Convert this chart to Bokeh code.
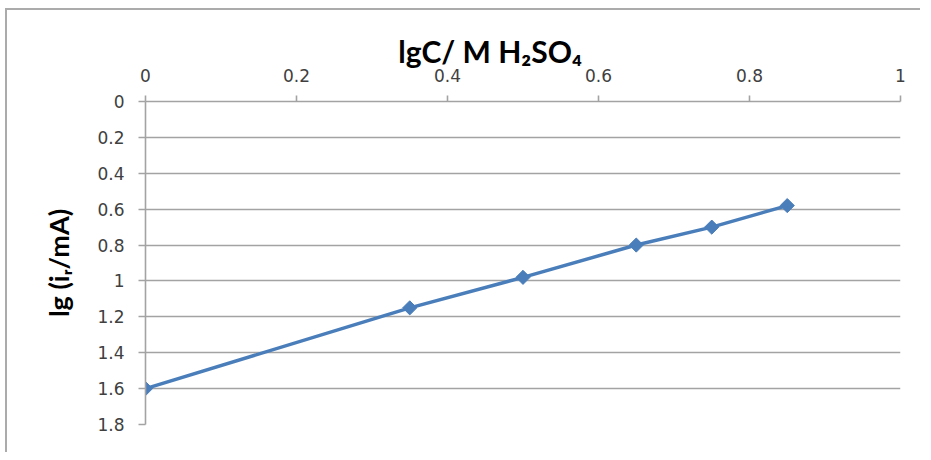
from bokeh.plotting import figure
from bokeh.models import Range1d, FixedTicker, NumeralTickFormatter
from bokeh.embed import file_html
from bokeh.resources import INLINE
from math import pi

# data
lg_c = [0.0, 0.35, 0.5, 0.65, 0.75, 0.85]
lg_i = [1.6, 1.15, 0.98, 0.80, 0.70, 0.58]
x_ticks = [0, 0.2, 0.4, 0.6, 0.8, 1.0]
y_ticks = [0, 0.2, 0.4, 0.6, 0.8, 1.0, 1.2, 1.4, 1.6, 1.8]
x_title = "lgC/ M H\u2082SO\u2084"
y_title = "lg (i\u1d63/mA)"

BLUE = "#4A7EBB"
GRID = "#a3a3a3"
NBSP = "\u00a0"

p = figure(width=915, height=444, output_backend="svg", toolbar_location=None,
           x_range=Range1d(0, 1), y_range=Range1d(1.8, 0),
           x_axis_location="above",
           min_border_left=138, min_border_right=22, min_border_top=91, min_border_bottom=30)
p.margin = (8, 0, 0, 5)
p.styles = {"border-top": "2px solid #ababab", "border-left": "2px solid #ababab"}
p.outline_line_color = None
p.background_fill_color = "white"
p.border_fill_color = "white"

# axes
xa = p.xaxis[0]
xa.ticker = FixedTicker(ticks=x_ticks)
xa.formatter = NumeralTickFormatter(format="0.[0]")
xa.axis_line_color = GRID
xa.axis_line_width = 1.6
xa.major_tick_line_color = GRID
xa.major_tick_line_width = 1.6
xa.major_tick_out = 6
xa.major_tick_in = 0
xa.minor_tick_line_color = None
xa.major_label_text_font = "DejaVu Sans"
xa.major_label_text_font_size = "17px"
xa.major_label_text_color = "#404040"
xa.major_label_standoff = 14
xa.axis_label = x_title + NBSP * 9
xa.axis_label_text_font = "Lato"
xa.axis_label_text_font_style = "bold"
xa.axis_label_text_font_size = "30px"
xa.axis_label_text_color = "#000000"
xa.axis_label_standoff = -3

ya = p.yaxis[0]
ya.ticker = FixedTicker(ticks=y_ticks)
ya.formatter = NumeralTickFormatter(format="0.[0]")
ya.axis_line_color = GRID
ya.axis_line_width = 1.6
ya.major_tick_line_color = GRID
ya.major_tick_line_width = 1.6
ya.major_tick_out = 7
ya.major_tick_in = 0
ya.minor_tick_line_color = None
ya.major_label_text_font = "DejaVu Sans"
ya.major_label_text_font_size = "17px"
ya.major_label_text_color = "#404040"
ya.major_label_standoff = 14
ya.axis_label = y_title
ya.axis_label_text_font = "Lato"
ya.axis_label_text_font_style = "bold"
ya.axis_label_text_font_size = "27px"
ya.axis_label_text_color = "#000000"
ya.axis_label_standoff = 19

p.xgrid.grid_line_color = None
p.ygrid.ticker = FixedTicker(ticks=y_ticks)
p.ygrid.grid_line_color = GRID
p.ygrid.grid_line_width = 1.6

# series
p.line(lg_c, lg_i, line_color=BLUE, line_width=3.5)
p.scatter(lg_c, lg_i, marker="square", angle=pi / 4, size=10, fill_color=BLUE, line_color=BLUE)

open("out.html", "w").write(file_html(p, INLINE))
